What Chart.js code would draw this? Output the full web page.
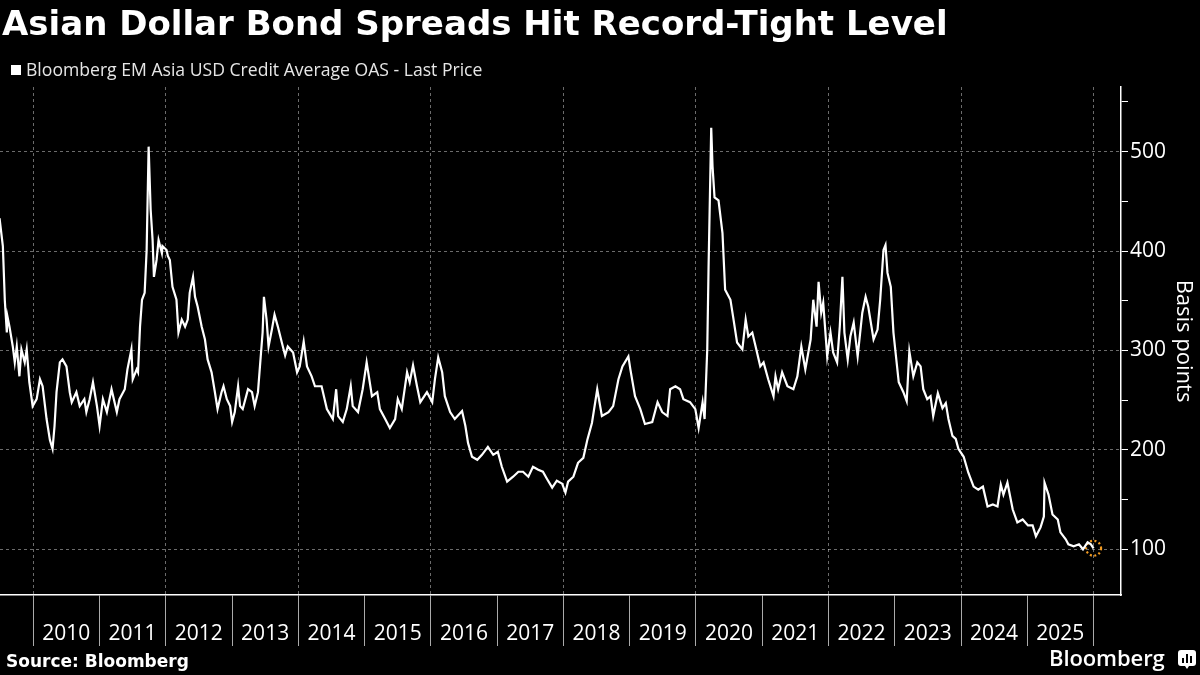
<!DOCTYPE html>
<html>
<head>
<meta charset="utf-8">
<script src="https://cdn.jsdelivr.net/npm/chart.js@4"></script>
<style>
  body { margin: 0; background: #000; }
  #wrap { position: relative; width: 1200px; height: 675px; background: #000; overflow: hidden; font-family: "Open Sans", sans-serif; color: #fff; }
  #chart { position: absolute; left: 0; top: 0; }
  .txt { position: absolute; white-space: nowrap; line-height: 1; }
  #title { left: 2px; top: 6px; font-family: "DejaVu Sans", sans-serif; font-size: 34px; font-weight: 700; }
  #legend { left: 26px; top: 60.5px; font-size: 17.6px; color: #e6e6e6; }
  #legend-box { position: absolute; left: 11px; top: 65px; width: 10px; height: 10px; background: #fff; }
  #source { left: 6px; top: 653px; font-family: "DejaVu Sans", sans-serif; font-size: 17px; font-weight: 700; }
  #brand { left: 1049px; top: 646px; font-size: 22px; font-weight: 600; letter-spacing: -0.1px; }
  #icon { position: absolute; left: 1178px; top: 650px; }
</style>
</head>
<body>
<div id="wrap">
  <canvas id="chart" width="1200" height="675"></canvas>
  <div class="txt" id="title">Asian Dollar Bond Spreads Hit Record-Tight Level</div>
  <div id="legend-box"></div>
  <div class="txt" id="legend">Bloomberg EM Asia USD Credit Average OAS - Last Price</div>
  <div class="txt" id="source">Source: Bloomberg</div>
  <div class="txt" id="brand">Bloomberg</div>
  <svg id="icon" width="18" height="20" viewBox="0 0 18 20">
    <path d="M3 0h12a3 3 0 0 1 3 3v10a3 3 0 0 1-3 3h-4l-2 3-2-3H3a3 3 0 0 1-3-3V3a3 3 0 0 1 3-3z" fill="#fff"/>
    <rect x="4" y="8" width="2" height="5" fill="#000"/>
    <rect x="8" y="4" width="2" height="9" fill="#000"/>
    <rect x="12" y="6" width="2" height="7" fill="#000"/>
  </svg>
</div>
<script>
// spread history (fractional year, basis points)
const years = [
  2009.49, 2009.54, 2009.57, 2009.60, 2009.61, 2009.64, 2009.69, 2009.72, 2009.75, 2009.79,
  2009.82, 2009.87, 2009.90, 2009.94, 2009.99, 2010.05, 2010.10, 2010.14, 2010.20, 2010.25,
  2010.29, 2010.32, 2010.35, 2010.40, 2010.44, 2010.50, 2010.55, 2010.58, 2010.65, 2010.70,
  2010.77, 2010.80, 2010.85, 2010.90, 2010.96, 2011.00, 2011.05, 2011.11, 2011.18, 2011.26,
  2011.30, 2011.38, 2011.42, 2011.48, 2011.50, 2011.56, 2011.58, 2011.61, 2011.64, 2011.68,
  2011.71, 2011.74, 2011.77, 2011.80, 2011.82, 2011.86, 2011.89, 2011.94, 2011.95, 2012.01,
  2012.03, 2012.06, 2012.10, 2012.16, 2012.19, 2012.24, 2012.29, 2012.33, 2012.36, 2012.41,
  2012.44, 2012.48, 2012.54, 2012.59, 2012.63, 2012.69, 2012.74, 2012.78, 2012.84, 2012.87,
  2012.92, 2012.97, 2013.00, 2013.04, 2013.09, 2013.12, 2013.16, 2013.24, 2013.30, 2013.34,
  2013.39, 2013.42, 2013.46, 2013.48, 2013.52, 2013.55, 2013.60, 2013.64, 2013.69, 2013.75,
  2013.80, 2013.84, 2013.92, 2013.98, 2014.02, 2014.08, 2014.13, 2014.20, 2014.25, 2014.35,
  2014.43, 2014.52, 2014.57, 2014.60, 2014.67, 2014.73, 2014.79, 2014.82, 2014.90, 2014.97,
  2015.03, 2015.11, 2015.19, 2015.23, 2015.31, 2015.38, 2015.46, 2015.50, 2015.56, 2015.64,
  2015.68, 2015.73, 2015.79, 2015.84, 2015.94, 2016.02, 2016.06, 2016.11, 2016.17, 2016.21,
  2016.29, 2016.36, 2016.47, 2016.52, 2016.56, 2016.62, 2016.70, 2016.77, 2016.86, 2016.94,
  2017.01, 2017.07, 2017.15, 2017.24, 2017.32, 2017.39, 2017.47, 2017.54, 2017.62, 2017.69,
  2017.75, 2017.83, 2017.90, 2017.98, 2018.03, 2018.07, 2018.15, 2018.22, 2018.30, 2018.36,
  2018.43, 2018.51, 2018.58, 2018.68, 2018.75, 2018.83, 2018.89, 2018.98, 2019.01, 2019.08,
  2019.16, 2019.23, 2019.34, 2019.42, 2019.49, 2019.57, 2019.61, 2019.69, 2019.76, 2019.81,
  2019.91, 2019.99, 2020.04, 2020.10, 2020.13, 2020.17, 2020.19, 2020.23, 2020.25, 2020.28,
  2020.34, 2020.40, 2020.44, 2020.52, 2020.56, 2020.62, 2020.70, 2020.75, 2020.79, 2020.85,
  2020.90, 2020.97, 2021.02, 2021.09, 2021.17, 2021.20, 2021.24, 2021.30, 2021.38, 2021.47,
  2021.53, 2021.59, 2021.65, 2021.73, 2021.77, 2021.82, 2021.85, 2021.89, 2021.92, 2021.98,
  2022.03, 2022.07, 2022.13, 2022.17, 2022.21, 2022.24, 2022.29, 2022.33, 2022.38, 2022.44,
  2022.51, 2022.56, 2022.60, 2022.68, 2022.74, 2022.78, 2022.83, 2022.86, 2022.89, 2022.94,
  2022.98, 2023.06, 2023.13, 2023.18, 2023.22, 2023.28, 2023.34, 2023.39, 2023.43, 2023.49,
  2023.54, 2023.58, 2023.65, 2023.72, 2023.77, 2023.81, 2023.87, 2023.92, 2023.96, 2024.04,
  2024.11, 2024.19, 2024.26, 2024.33, 2024.40, 2024.48, 2024.55, 2024.60, 2024.64, 2024.70,
  2024.78, 2024.85, 2024.93, 2025.01, 2025.08, 2025.13, 2025.20, 2025.25, 2025.26, 2025.32,
  2025.38, 2025.46, 2025.50, 2025.58, 2025.62, 2025.70, 2025.78, 2025.84, 2025.91, 2025.96,
  2026.00
];
const spreads = [
  433, 405, 350, 318, 334, 324, 304, 288, 304, 274,
  301, 288, 301, 268, 244, 251, 271, 264, 231, 210,
  201, 224, 258, 288, 291, 284, 258, 248, 258, 244,
  251, 238, 251, 268, 244, 224, 251, 238, 261, 238,
  251, 261, 281, 301, 271, 281, 278, 324, 351, 358,
  401, 505, 442, 411, 374, 391, 411, 398, 405, 401,
  395, 391, 364, 351, 318, 331, 324, 331, 358, 374,
  354, 344, 324, 311, 291, 278, 258, 241, 258, 264,
  251, 244, 228, 238, 264, 244, 241, 261, 258, 244,
  258, 284, 318, 354, 331, 304, 321, 336, 324, 308,
  295, 304, 298, 278, 284, 309, 284, 274, 264, 264,
  241, 231, 261, 234, 228, 241, 264, 244, 238, 261,
  288, 254, 258, 241, 231, 222, 231, 251, 241, 278,
  268, 285, 264, 248, 258, 248, 271, 293, 278, 254,
  238, 231, 239, 224, 207, 193, 190, 195, 203, 195,
  198, 183, 168, 173, 178, 178, 173, 183, 180, 178,
  171, 162, 169, 166, 157, 168, 173, 187, 192, 210,
  227, 261, 234, 238, 244, 271, 284, 294, 281, 254,
  241, 226, 228, 248, 238, 234, 261, 264, 261, 251,
  248, 241, 222, 248, 231, 301, 384, 524, 485, 454,
  451, 418, 361, 351, 334, 308, 301, 331, 314, 318,
  304, 284, 288, 271, 254, 274, 261, 278, 264, 261,
  274, 304, 281, 311, 351, 324, 369, 338, 348, 294,
  318, 298, 288, 324, 374, 318, 291, 314, 328, 294,
  338, 354, 344, 311, 321, 351, 401, 406, 378, 364,
  318, 268, 258, 249, 299, 274, 288, 284, 261, 251,
  254, 234, 257, 242, 247, 231, 214, 211, 201, 193,
  177, 163, 160, 163, 143, 145, 143, 165, 155, 167,
  140, 127, 130, 124, 124, 113, 122, 133, 167, 155,
  135, 130, 117, 110, 105, 103, 105, 100, 107, 105,
  101
];
const yearTicks = [2010, 2011, 2012, 2013, 2014, 2015, 2016, 2017, 2018, 2019, 2020, 2021, 2022, 2023, 2024, 2025, 2026];
const valueTicks = [100, 150, 200, 250, 300, 350, 400, 450, 500, 550];

const points = years.map((yr, i) => ({ x: yr, y: spreads[i] }));
const lastPoint = [points[points.length - 1]];

const gridGray = "rgba(255,255,255,0.42)";

// dotted ring round the latest value
const dottedMarker = {
  id: "dottedMarker",
  beforeDatasetDraw(chart, args) {
    if (args.index === 1) {
      chart.ctx.save();
      chart.ctx.setLineDash([2, 2.5]);
    }
  },
  afterDatasetDraw(chart, args) {
    if (args.index === 1) chart.ctx.restore();
  },
};

new Chart(document.getElementById("chart"), {
  type: "line",
  data: {
    datasets: [
      {
        label: "Bloomberg EM Asia USD Credit Average OAS - Last Price",
        data: points,
        borderColor: "#fff",
        borderWidth: 2.2,
        pointRadius: 0,
        tension: 0,
      },
      {
        label: "latest",
        data: lastPoint,
        showLine: false,
        pointRadius: 7.5,
        pointBorderWidth: 2.2,
        pointBorderColor: "#f29b22",
        pointBackgroundColor: "rgba(0,0,0,0)",
      },
    ],
  },
  options: {
    responsive: false,
    animation: false,
    devicePixelRatio: 1,
    layout: { autoPadding: false, padding: { top: 87, left: 0, right: 0, bottom: 0 } },
    plugins: {
      legend: { display: false },
      tooltip: { enabled: false },
    },
    scales: {
      x: {
        type: "linear",
        min: 2009.497,
        max: 2026.414,
        afterBuildTicks: (scale) => {
          scale.ticks = yearTicks.map((v) => ({ value: v }));
        },
        afterFit: (scale) => {
          scale.height = 80;
          scale.paddingLeft = 0;
          scale.paddingRight = 0;
        },
        grid: {
          color: (ctx) => (ctx.tick && ctx.tick.value % 2 === 0 ? gridGray : "rgba(0,0,0,0)"),
          tickColor: "#aaa",
          tickLength: 51,
          lineWidth: 1,
        },
        border: { color: "#fff", width: 1.5, dash: [3, 3] },
        ticks: {
          color: "#fff",
          font: { family: "Open Sans", size: 21 },
          labelOffset: 33,
          padding: -25,
          autoSkip: false,
          maxRotation: 0,
          callback: (v) => (v === 2026 ? "" : String(v)),
        },
      },
      y: {
        position: "right",
        min: 54,
        max: 565,
        afterBuildTicks: (scale) => {
          scale.ticks = valueTicks.map((v) => ({ value: v }));
        },
        afterFit: (scale) => {
          scale.width = 79;
        },
        grid: {
          color: (ctx) => (ctx.tick && ctx.tick.value % 100 === 0 ? gridGray : "rgba(0,0,0,0)"),
          tickColor: "#fff",
          tickLength: 7,
          lineWidth: 1,
        },
        border: { color: "#fff", width: 1.5, dash: [3, 3] },
        ticks: {
          color: "#fff",
          font: { family: "Open Sans", size: 21 },
          padding: 2,
          callback: (v) => (v % 100 === 0 ? String(v) : ""),
        },
        title: {
          display: true,
          text: "Basis points",
          color: "#fff",
          font: { family: "Open Sans", size: 22 },
          padding: { top: 4, bottom: 0 },
        },
      },
    },
  },
  plugins: [dottedMarker],
});
</script>
</body>
</html>
